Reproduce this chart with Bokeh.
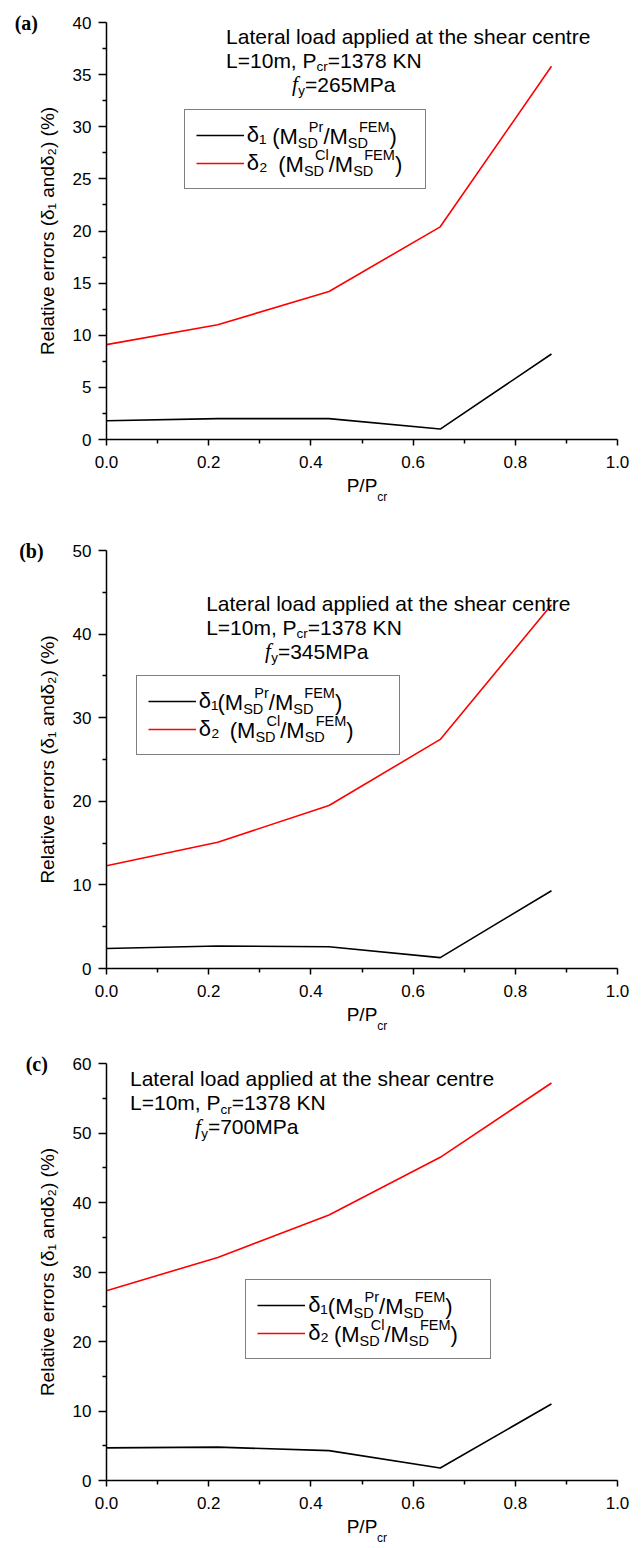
from bokeh.plotting import figure
from bokeh.models import (FixedTicker, PrintfTickFormatter, Label, Range1d,
                          Legend, LegendItem)
from bokeh.layouts import column
from bokeh.embed import file_html
from bokeh.resources import INLINE

# ---------------- data ----------------
p_over_pcr = [0.0, 0.2177, 0.4354, 0.6531, 0.8708]

a_delta1 = [1.8, 2.0, 2.0, 1.0, 8.2]
a_delta2 = [9.1, 11.0, 14.2, 20.4, 35.8]

b_delta1 = [2.4, 2.7, 2.6, 1.3, 9.3]
b_delta2 = [12.3, 15.1, 19.5, 27.4, 43.5]

c_delta1 = [4.7, 4.8, 4.3, 1.8, 11.0]
c_delta2 = [27.3, 32.1, 38.2, 46.5, 57.2]

panel_tags = ["(a)", "(b)", "(c)"]
fy_values = ["265MPa", "345MPa", "700MPa"]
y_max = [40, 50, 60]
y_step = [5, 10, 10]
x_ticks = [0.0, 0.2, 0.4, 0.6, 0.8, 1.0]
x_minor = [0.1, 0.3, 0.5, 0.7, 0.9]

FONT = "Liberation Sans"

# approximate Arial advance widths (em)
W = {'M': .833, 'S': .667, 'D': .722, 'P': .667, 'r': .333, 'F': .611, 'E': .667,
     'C': .722, 'l': .222, '/': .278, '(': .333, ')': .333, ' ': .278, 'δ': .556,
     '=': .584, 'K': .667, 'N': .722, 'L': .556, 'm': .833, 'c': .5, ',': .278,
     'y': .5, 'a': .556, 'f': .30, 'k': .5}


def tw(s, size):
    return sum(W.get(ch, .556) for ch in s) * size


def rich(p, x, y, pieces, size, x0=0.0, y0=0.0, ratio=0.64):
    """Place rich text made of normal / italic / sub / sup pieces."""
    def add(text, dx, dy, s, font=FONT, style="normal"):
        lead = len(text) - len(text.lstrip(" "))
        dx += lead * W[' '] * s
        p.add_layout(Label(x=x, y=y, x_offset=dx, y_offset=dy, text=text.strip(" "),
                           text_font=font, text_font_size=f"{s:.1f}px",
                           text_font_style=style, text_baseline="middle",
                           text_align="left", text_color="black"))
    off = x0
    k = 0
    while k < len(pieces):
        text, kind = pieces[k]
        if kind == "n":
            add(text, off, y0, size)
            off += tw(text, size)
        elif kind == "it":
            add(text, off, y0, size, "Liberation Serif", "italic")
            off += tw(text, size)
        elif kind == "sub":
            s = size * ratio
            add(text, off, y0 - 0.30 * size, s)
            w = tw(text, s)
            if k + 1 < len(pieces) and pieces[k + 1][1] == "sup":
                t2 = pieces[k + 1][0]
                start = off + 0.55 * w
                add(t2, start, y0 + 0.42 * size, s)
                off = max(off + w, start + tw(t2, s))
                k += 1
            else:
                off += w
        elif kind == "sup":
            s = size * ratio
            add(text, off, y0 + 0.42 * size, s)
            off += tw(text, s)
        k += 1
    return off


# layout per panel: (border_left, border_right, border_top, border_bottom, frame_h)
geom = [(106, 26, 22, 75, 417), (102, 27, 36, 75, 418), (97, 22, 20, 66, 417)]

# annotation anchor (data): line1 x, line1 y, f x
ann_pos = [(0.234, 38.7, 0.363), (0.195, 43.7, 0.31), (0.046, 57.8, 0.173)]
# legend box (data): left x, top y, width px
leg_pos = [(0.152, 31.5, 240), (0.058, 34.8, 262), (0.265, 28.7, 244)]
entry_gap = [(" (M", "  (M"), ("(M", "  (M"), (" (M", "  (M")]

series = [(a_delta1, a_delta2), (b_delta1, b_delta2), (c_delta1, c_delta2)]

figs = []
for i in range(3):
    bl, br, bt, bb, fh = geom[i]
    fw = 644 - bl - br
    H = bt + fh + bb
    ym = y_max[i]
    p = figure(width=644, height=H, output_backend="svg", toolbar_location=None,
               x_range=Range1d(0, 1.0), y_range=Range1d(0, ym),
               min_border_left=bl, min_border_right=br, min_border_top=bt,
               min_border_bottom=bb)
    p.outline_line_color = None
    p.xgrid.grid_line_color = None
    p.ygrid.grid_line_color = None
    p.background_fill_color = "white"

    d1, d2 = series[i]
    r1 = p.line(p_over_pcr, d1, line_color="black", line_width=1.6)
    r2 = p.line(p_over_pcr, d2, line_color="#ff0000", line_width=1.6)

    # axes
    p.xaxis.ticker = FixedTicker(ticks=x_ticks, minor_ticks=x_minor)
    p.xaxis.formatter = PrintfTickFormatter(format="%.1f")
    st = y_step[i]
    p.yaxis.ticker = FixedTicker(ticks=list(range(0, ym + 1, st)),
                                 minor_ticks=[v + st / 2 for v in range(0, ym, st)])
    for ax in (p.xaxis[0], p.yaxis[0]):
        ax.axis_line_width = 1.5
        ax.axis_line_color = "black"
        ax.major_tick_line_width = 1.5
        ax.minor_tick_line_width = 1.5
        ax.major_tick_line_color = "black"
        ax.minor_tick_line_color = "black"
        ax.major_tick_in = 0
        ax.minor_tick_in = 0
        ax.major_label_text_font = FONT
        ax.major_label_text_font_size = "17px"
        ax.major_label_text_color = "black"
        ax.axis_label_text_font = FONT
        ax.axis_label_text_font_style = "normal"
        ax.axis_label_text_color = "black"
    p.xaxis.major_tick_out = 6
    p.xaxis.minor_tick_out = 4
    p.yaxis.major_tick_out = 8
    p.yaxis.minor_tick_out = 4
    p.xaxis.major_label_standoff = 10
    p.yaxis.major_label_standoff = 7
    p.yaxis.axis_label = "Relative errors (δ₁ andδ₂) (%)"
    p.yaxis.axis_label_text_font_size = "19px"
    p.yaxis.axis_label_standoff = 12
    p.xaxis.axis_label = "P/P"
    p.xaxis.axis_label_text_font_size = "19px"
    p.xaxis.axis_label_standoff = 4

    px2x = 1.0 / fw          # data per px (x)
    # subscript of the x-axis label (side panel -> not clipped by the frame)
    p.add_layout(Label(x=0.5 + (tw("P/P", 19) / 2) * px2x, y=0, y_offset=-57,
                       text="cr", text_font=FONT, text_font_size="12px",
                       text_baseline="middle", text_align="left",
                       text_color="black"), "right")

    # panel tag
    p.add_layout(Label(x=(14 - bl) * px2x, y=ym, text=panel_tags[i],
                       text_font="Liberation Serif", text_font_style="bold",
                       text_font_size="20px", text_baseline="middle",
                       text_align="left", text_color="black"), "left")

    # annotation
    ax1, ay1, fx = ann_pos[i]
    rich(p, ax1, ay1, [("Lateral load applied at the shear centre", "n")], 21)
    rich(p, ax1, ay1, [("L=10m, P", "n"), ("cr", "sub"), ("=1378 KN", "n")], 21,
         y0=-24)
    rich(p, fx, ay1, [("f", "it"), ("y", "sub"), ("=" + fy_values[i], "n")], 21,
         y0=-48)

    # legend
    lx, ltop, lw = leg_pos[i]
    pad, row, gw, stand = 11, 28, 48, 3
    lh = 2 * pad + 2 * row
    ppu = fh / ym             # px per y unit
    loc_x = lx * fw
    loc_y = ltop * ppu - lh
    leg = Legend(items=[LegendItem(label="δ₁", renderers=[r1]),
                        LegendItem(label="δ₂", renderers=[r2])],
                 location=(loc_x, loc_y), padding=pad, spacing=0,
                 glyph_width=gw, glyph_height=row, label_height=row,
                 label_standoff=stand, label_width=lw - 2 * pad - gw - stand,
                 label_text_font=FONT, label_text_font_size="22px",
                 label_text_color="black", border_line_color="black",
                 border_line_width=1.2, background_fill_color=None,
                 margin=0)
    p.add_layout(leg, "center")
    text_x = lx + (pad + gw + stand + 20) * px2x
    row1_y = ltop - (pad + row / 2) / ppu
    row2_y = ltop - (pad + 1.5 * row) / ppu
    g1, g2 = entry_gap[i]
    rich(p, text_x, row1_y, [(g1, "n"), ("SD", "sub"), ("Pr", "sup"),
                             ("/M", "n"), ("SD", "sub"), ("FEM", "sup"), (")", "n")],
         22, ratio=0.66)
    rich(p, text_x, row2_y, [(g2, "n"), ("SD", "sub"), ("Cl", "sup"),
                             ("/M", "n"), ("SD", "sub"), ("FEM", "sup"), (")", "n")],
         22, ratio=0.66)
    figs.append(p)

layout = column(*figs)
open("out.html", "w").write(file_html(layout, INLINE))
